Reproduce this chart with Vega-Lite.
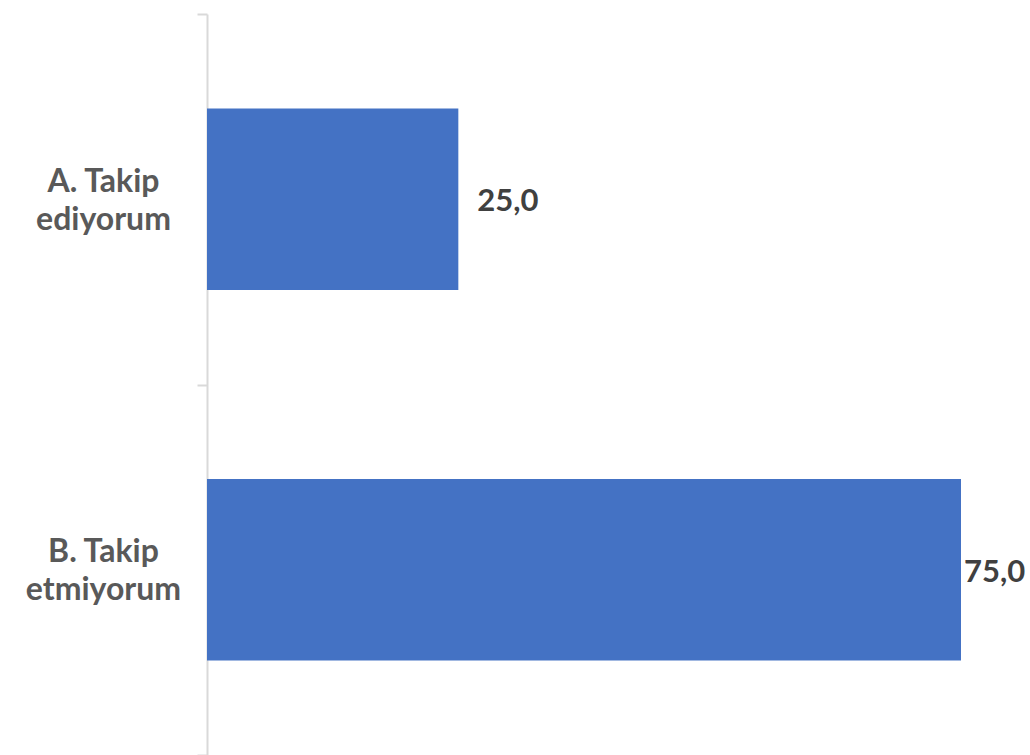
{
  "$schema": "https://vega.github.io/schema/vega-lite/v6.json",
  "width": 754,
  "height": 741,
  "autosize": {"type": "none"},
  "padding": {"left": 207, "top": 14, "right": 69, "bottom": 0},
  "background": "white",
  "config": {
    "view": {"stroke": null},
    "locale": {"number": {"decimal": ",", "thousands": ".", "grouping": [3], "currency": ["", ""]}}
  },
  "data": {"values": [
    {"cevap": "A. Takip|ediyorum", "yuzde": 25.0},
    {"cevap": "B. Takip|etmiyorum", "yuzde": 75.0}
  ]},
  "encoding": {
    "y": {
      "field": "cevap", "type": "nominal", "sort": null,
      "scale": {"paddingInner": 0, "paddingOuter": 0},
      "axis": {
        "title": null,
        "tickBand": "extent",
        "domainColor": "#d9d9d9", "domainWidth": 2,
        "tickColor": "#d9d9d9", "tickWidth": 2, "tickSize": 10,
        "labelExpr": "isValid(datum.value) ? split(datum.value, '|') : ''",
        "labelFont": "Lato", "labelFontWeight": "bold", "labelFontSize": 32,
        "labelColor": "#595959", "labelAlign": "center", "labelBaseline": "middle",
        "labelLineHeight": 38, "labelOffset": -18, "labelPadding": 94, "labelLimit": 300
      }
    },
    "x": {
      "field": "yuzde", "type": "quantitative",
      "scale": {"domain": [0, 75], "nice": false},
      "axis": null
    }
  },
  "layer": [
    {"mark": {"type": "bar", "color": "#4472C4", "height": {"band": 0.49}}},
    {
      "transform": [{"filter": "datum.yuzde < 50"}],
      "mark": {"type": "text", "align": "left", "baseline": "middle", "dx": 19, "dy": 3, "font": "Lato", "fontWeight": "bold", "fontSize": 31, "color": "#404040"},
      "encoding": {"text": {"field": "yuzde", "type": "quantitative", "format": ".1f"}}
    },
    {
      "transform": [{"filter": "datum.yuzde >= 50"}],
      "mark": {"type": "text", "align": "left", "baseline": "middle", "dx": 3, "dy": 3, "font": "Lato", "fontWeight": "bold", "fontSize": 31, "color": "#404040"},
      "encoding": {"text": {"field": "yuzde", "type": "quantitative", "format": ".1f"}}
    }
  ]
}
